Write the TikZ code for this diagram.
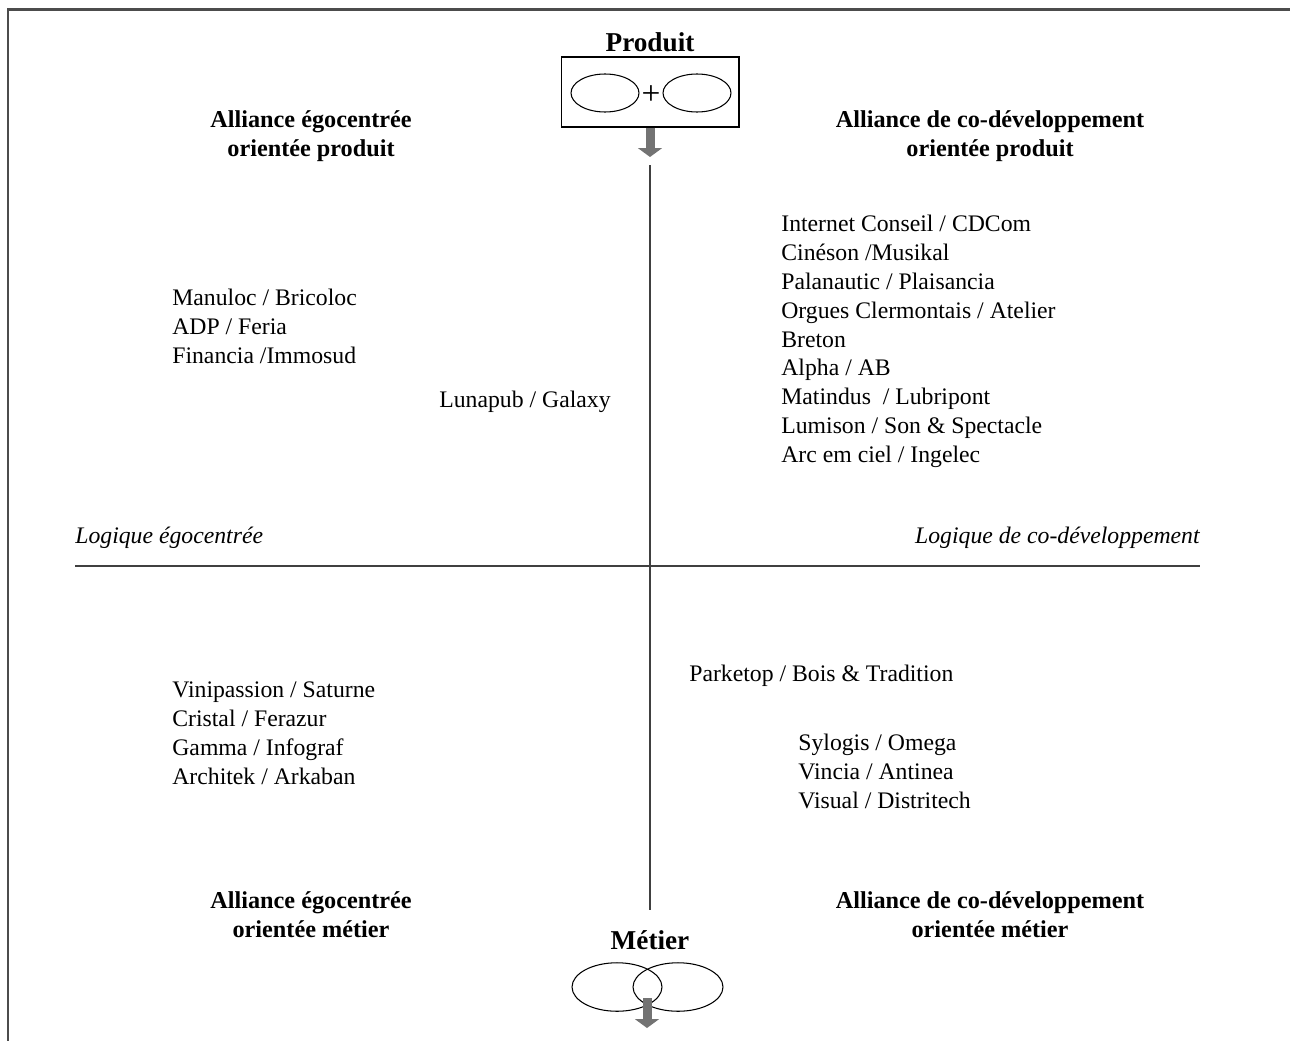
\documentclass[tikz,border=0pt]{standalone}
\usepackage{fontspec}
\setmainfont{Liberation Serif}
\usetikzlibrary{shapes,arrows.meta,positioning}

\tikzset{
    item/.style={anchor=west,inner sep=0pt,text height=2.3ex,text depth=.35ex,
        font=\fontsize{13.5}{16.4}\selectfont},
    logique/.style={item,font=\fontsize{13.5}{16.4}\selectfont\itshape},
    heading/.style={align=center,inner sep=0pt,
        font=\fontsize{13.8}{16.4}\selectfont\bfseries},
    pole/.style={inner sep=0pt,font=\fontsize{15.5}{18}\selectfont\bfseries},
    bulle/.style={draw,ellipse,inner sep=0pt,line width=.6pt},
    fleche/.style={draw=black!55,line width=.18cm,
        -{Triangle[width=.48cm,length=.18cm]}},
    axe/.style={draw=black!75,line width=.6pt}
}

\begin{document}
\begin{tikzpicture}[x=0.02cm,y=-0.02cm]
    \useasboundingbox (0,0) rectangle (1290,1041);
    % cadre
    \draw[black!70,line width=1.2pt] (1290,9.5) -- (8,9.5) -- (8,1041);

    % pole produit
    \node[pole] (produit) at (650,42) {Produit};
    \node[draw,rectangle,line width=.6pt,minimum width=3.56cm,minimum height=1.4cm,
        inner sep=0pt] (boite) at (650,92) {};
    \node[bulle,minimum width=1.36cm,minimum height=.76cm] (p1) at (605,93) {};
    \node[bulle,minimum width=1.36cm,minimum height=.76cm] (p2) at (697,93) {};
    \node[inner sep=0pt,font=\fontsize{19}{22}\selectfont] (plus) at (651,95) {+};
    \coordinate (ftop) at (650,157);
    \draw[fleche] (boite.south) -- (ftop);

    % axes
    \coordinate (axtop) at (650,165);
    \coordinate (axbot) at (650,910);
    \coordinate (axg) at (75,566);
    \coordinate (axd) at (1200,566);
    \draw[axe] (axtop) -- (axbot);
    \draw[axe] (axg) -- (axd);

    \node[logique] (lego) at (75,536) {Logique égocentrée};
    \node[logique,anchor=east] (lcodev) at (1200,536) {Logique de co-développement};

    % quadrants
    \node[heading] (hgp) at (311,136) {Alliance égocentrée\\orientée produit};
    \node[heading] (hdp) at (990,136) {Alliance de co-développement\\orientée produit};
    \node[heading] (hgm) at (311,915) {Alliance égocentrée\\orientée métier};
    \node[heading] (hdm) at (990,915) {Alliance de co-développement\\orientée métier};

    \path
        (781,224)   node[item] (ic) {Internet Conseil / CDCom}
     ++ (0,28.8)    node[item] (cm) {Cinéson /Musikal}
     ++ (0,28.8)    node[item] (pp) {Palanautic / Plaisancia}
     ++ (0,28.8)    node[item] (oc) {Orgues Clermontais / Atelier}
     ++ (0,28.8)    node[item] (br) {Breton}
     ++ (0,28.8)    node[item] (ab) {Alpha / AB}
     ++ (0,28.8)    node[item] (ml) {Matindus\ \ / Lubripont}
     ++ (0,28.8)    node[item] (ls) {Lumison / Son \& Spectacle}
     ++ (0,28.8)    node[item] (ai) {Arc em ciel / Ingelec}
     ;
    \path
        (172,298)   node[item] (mb) {Manuloc / Bricoloc}
     ++ (0,28.8)    node[item] (af) {ADP / Feria}
     ++ (0,28.8)    node[item] (fi) {Financia /Immosud}
     ;
    \node[item] (lg) at (439,400) {Lunapub / Galaxy};
    \path
        (172,690)   node[item] (vs) {Vinipassion / Saturne}
     ++ (0,28.8)    node[item] (cf) {Cristal / Ferazur}
     ++ (0,28.8)    node[item] (gi) {Gamma / Infograf}
     ++ (0,28.8)    node[item] (aa) {Architek / Arkaban}
     ;
    \node[item] (pb) at (689,674) {Parketop / Bois \& Tradition};
    \path
        (798,743)   node[item] (so) {Sylogis / Omega}
     ++ (0,28.8)    node[item] (va) {Vincia / Antinea}
     ++ (0,28.8)    node[item] (vd) {Visual / Distritech}
     ;

    % pole metier
    \node[pole] (metier) at (650,940) {Métier};
    \node[bulle,minimum width=1.8cm,minimum height=.97cm] (m1) at (617,987) {};
    \node[bulle,minimum width=1.8cm,minimum height=.97cm] (m2) at (678,987) {};
    \coordinate (fdep) at (647,998);
    \coordinate (fbot) at (647,1028);
    \draw[fleche] (fdep) -- (fbot);
\end{tikzpicture}
\end{document}
